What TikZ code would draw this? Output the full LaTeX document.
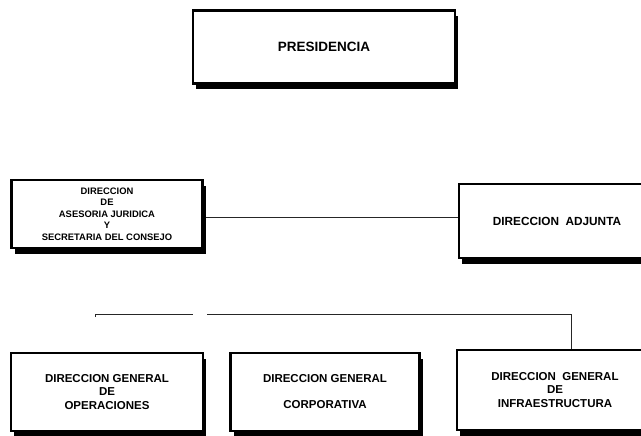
\documentclass[tikz,border=0pt]{standalone}
\usepackage{fontspec}
\setmainfont{Liberation Sans}
\usetikzlibrary{shadows}
\begin{document}
\begin{tikzpicture}[x=1pt,y=-1pt,
  orgbox/.style={draw=black, line width=2.4pt, fill=white, align=center,
    inner sep=0pt, font=\bfseries,
    drop shadow={shadow xshift=3pt, shadow yshift=-6pt, opacity=1, fill=black}},
  link/.style={draw=black!85, line width=0.8pt}]
\useasboundingbox (0,0) rectangle (641,436);
\node[orgbox, minimum width=262pt, minimum height=73pt, font=\bfseries\fontsize{13.5}{15}\selectfont]
  (pres) at (324,47) {PRESIDENCIA};
\node[orgbox, minimum width=191pt, minimum height=68pt, font=\bfseries\fontsize{9.4}{11.6}\selectfont]
  (ases) at (107,214) {DIRECCION\\DE\\ASESORIA JURIDICA\\Y\\SECRETARIA DEL CONSEJO};
\node[orgbox, minimum width=196pt, minimum height=74pt, font=\bfseries\fontsize{11.8}{13}\selectfont]
  (adj) at (557,221) {DIRECCION\ \ ADJUNTA};
\node[orgbox, minimum width=192pt, minimum height=78pt, font=\bfseries\fontsize{11.5}{13.8}\selectfont]
  (oper) at (107,392) {DIRECCION GENERAL\\DE\\OPERACIONES};
\node[orgbox, minimum width=189pt, minimum height=78pt, font=\bfseries\fontsize{11.5}{26}\selectfont]
  (corp) at (325,392) {DIRECCION GENERAL\\CORPORATIVA};
\node[orgbox, minimum width=196pt, minimum height=80pt, font=\bfseries\fontsize{11.5}{13.5}\selectfont]
  (infra) at (555,390) {DIRECCION\ \ GENERAL\\DE\\INFRAESTRUCTURA};
\path (ases.east) ++(2pt,-3pt) coordinate (a1);
\draw[link] (a1) -- (a1 -| adj.west);
\coordinate (b0) at (95,317);
\coordinate (b1) at (95,314);
\coordinate (b2) at (193,314);
\coordinate (b3) at (207,314);
\coordinate (b4) at (571,314);
\draw[link] (b0) -- (b1) -- (b2);
\draw[link] (b3) -- (b4) -- (b4 |- infra.north);
\end{tikzpicture}
\end{document}
